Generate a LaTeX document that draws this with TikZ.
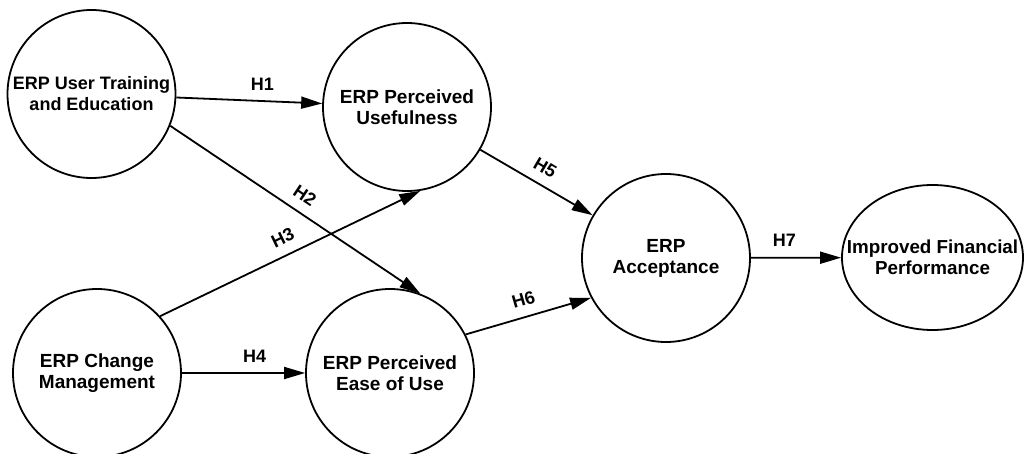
\documentclass[tikz,border=0pt]{standalone}
\usepackage{fontspec}
\setmainfont{Liberation Sans}
\usetikzlibrary{arrows.meta,shapes.geometric}

\begin{document}
\begin{tikzpicture}[x=1pt,y=-1pt,
  construct/.style={draw,circle,line width=1.8pt,minimum size=168pt,inner sep=0pt,align=center,font=\bfseries\fontsize{19}{21}\selectfont},
  hyp/.style={line width=1.8pt,-{Triangle[length=21pt,width=12pt]}},
  hlabel/.style={font=\bfseries\fontsize{18}{21}\selectfont,inner sep=3pt}]
\useasboundingbox (0,0) rectangle (1026,454);
\clip (0,0) rectangle (1026,454);

% constructs
\node[construct,font=\bfseries\fontsize{18}{21}\selectfont] (train) at (91.5,94) {ERP User Training\\and Education};
\node[construct] (useful) at (407,107)  {ERP Perceived\\Usefulness};
\node[construct] (change) at (97,373)   {ERP Change\\Management};
\node[construct] (ease)   at (390,373)  {ERP Perceived\\Ease of Use};
\node[construct] (accept) at (666,258)  {ERP\\Acceptance};
\node[draw,ellipse,line width=1.8pt,minimum width=181pt,minimum height=145pt,inner sep=0pt,
      label={[name=fintext,align=center,font=\bfseries\fontsize{18.8}{21}\selectfont]center:{Improved Financial\\Performance}}] (fin) at (932.5,257.5) {};

% hypotheses
\draw[hyp] (train) -- node[hlabel,pos=0.59,above=7pt] (h1) {H1} (useful);
\draw[hyp] (train.-22) -- node[hlabel,sloped,above=7pt] (h2) {H2} (ease.69);
\draw[hyp] (change.42) -- node[hlabel,sloped,above=7pt] (h3) {H3} (useful.-81);
\draw[hyp] (change) -- node[hlabel,pos=0.59,above=7pt] (h4) {H4} (ease);
\draw[hyp] (useful) -- node[hlabel,sloped,above=7pt] (h5) {H5} (accept);
\draw[hyp] (ease.27) -- node[hlabel,sloped,above=7pt] (h6) {H6} (accept.-152);
\draw[hyp] (accept) -- node[hlabel,pos=0.37,above=7pt] (h7) {H7} (fin);

\end{tikzpicture}
\end{document}
